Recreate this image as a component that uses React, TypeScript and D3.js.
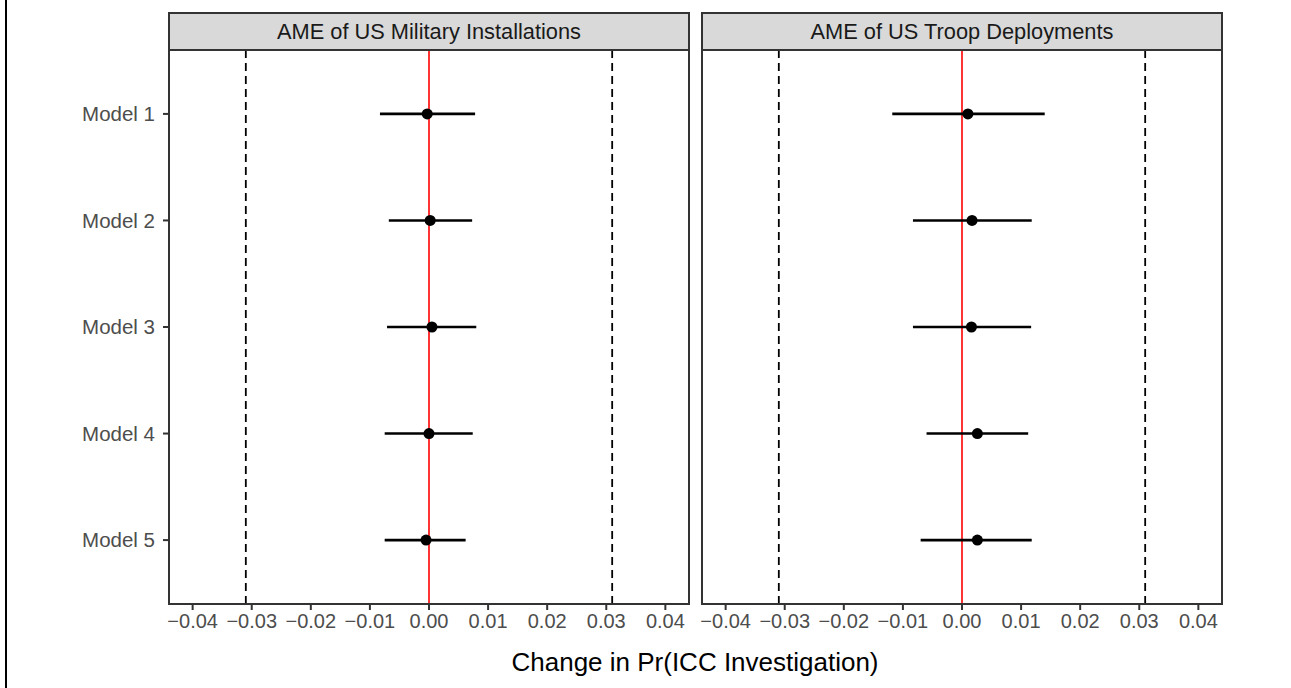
import React from "react";
import * as d3 from "d3";

const models = ["Model 1", "Model 2", "Model 3", "Model 4", "Model 5"];
const panelTitles = ["AME of US Military Installations", "AME of US Troop Deployments"];

// point estimates and 95% intervals
const installEst = [-0.0003, 0.0002, 0.0005, 0.0, -0.0005];
const installLo = [-0.0083, -0.0068, -0.0071, -0.0075, -0.0075];
const installHi = [0.0078, 0.0073, 0.008, 0.0074, 0.0062];

const troopEst = [0.001, 0.0017, 0.0016, 0.0026, 0.0026];
const troopLo = [-0.0118, -0.0083, -0.0083, -0.006, -0.007];
const troopHi = [0.014, 0.0118, 0.0117, 0.0112, 0.0118];

const xTicks = [-0.04, -0.03, -0.02, -0.01, 0, 0.01, 0.02, 0.03, 0.04];
const thresholds = [-0.031, 0.031];
const xDomain = [-0.044, 0.044];

const W = 1291;
const H = 688;
const FONT = "'Liberation Sans', Arial, Helvetica, sans-serif";

const Panel = ({ x0, title, est, lo, hi, showY }) => {
  const pw = 520;
  const top = 13;
  const stripH = 37;
  const plotTop = top + stripH;
  const plotBottom = 604;

  const x = d3.scaleLinear().domain(xDomain).range([x0, x0 + pw]);
  const y = d3
    .scalePoint()
    .domain(models)
    .range([plotTop, plotBottom])
    .padding(0.6);
  const fmt = d3.format(".2f");

  return (
    <g>
      {/* strip */}
      <rect x={x0} y={top} width={pw} height={stripH} fill="#d9d9d9" stroke="#333333" strokeWidth={2} />
      <text x={x0 + pw / 2} y={top + stripH / 2} dy="0.35em" textAnchor="middle" fontSize={21.8} fill="#1a1a1a" fontFamily={FONT}>
        {title}
      </text>

      {/* reference lines */}
      {thresholds.map((t) => (
        <line key={t} x1={x(t)} x2={x(t)} y1={plotTop} y2={plotBottom} stroke="#000" strokeWidth={1.8} strokeDasharray="8,5" />
      ))}
      <line x1={x(0)} x2={x(0)} y1={plotTop} y2={plotBottom} stroke="#ff0000" strokeWidth={1.6} />

      {/* intervals and points */}
      {models.map((m, i) => (
        <g key={m}>
          <line x1={x(lo[i])} x2={x(hi[i])} y1={y(m)} y2={y(m)} stroke="#000" strokeWidth={2.6} />
          <circle cx={x(est[i])} cy={y(m)} r={5.5} fill="#000" />
        </g>
      ))}

      {/* panel border */}
      <rect x={x0} y={plotTop} width={pw} height={plotBottom - plotTop} fill="none" stroke="#333333" strokeWidth={2} />

      {/* x axis */}
      {xTicks.map((t) => (
        <g key={t}>
          <line x1={x(t)} x2={x(t)} y1={plotBottom} y2={plotBottom + 6} stroke="#333333" strokeWidth={2} />
          <text x={x(t)} y={plotBottom + 24} textAnchor="middle" fontSize={20} fill="#4d4d4d" fontFamily={FONT}>
            {fmt(t)}
          </text>
        </g>
      ))}

      {/* y axis */}
      {showY &&
        models.map((m) => (
          <g key={m}>
            <line x1={x0 - 6} x2={x0} y1={y(m)} y2={y(m)} stroke="#333333" strokeWidth={2} />
            <text x={x0 - 14} y={y(m)} dy="0.35em" textAnchor="end" fontSize={20.5} fill="#4d4d4d" fontFamily={FONT}>
              {m}
            </text>
          </g>
        ))}
    </g>
  );
};

export default function App() {
  return (
    <svg
      width={W}
      height={H}
      viewBox={`0 0 ${W} ${H}`}
      style={{ position: "absolute", left: 0, top: 0, display: "block", background: "#fff" }}
    >
      <rect x={0} y={0} width={W} height={H} fill="#fff" />
      <line x1={6} x2={6} y1={0} y2={H} stroke="#000" strokeWidth={2} />
      <Panel x0={169} title={panelTitles[0]} est={installEst} lo={installLo} hi={installHi} showY={true} />
      <Panel x0={702} title={panelTitles[1]} est={troopEst} lo={troopLo} hi={troopHi} showY={false} />
      <text x={695} y={662} dy="0.35em" textAnchor="middle" fontSize={26} fill="#000" fontFamily={FONT}>
        Change in Pr(ICC Investigation)
      </text>
    </svg>
  );
}
